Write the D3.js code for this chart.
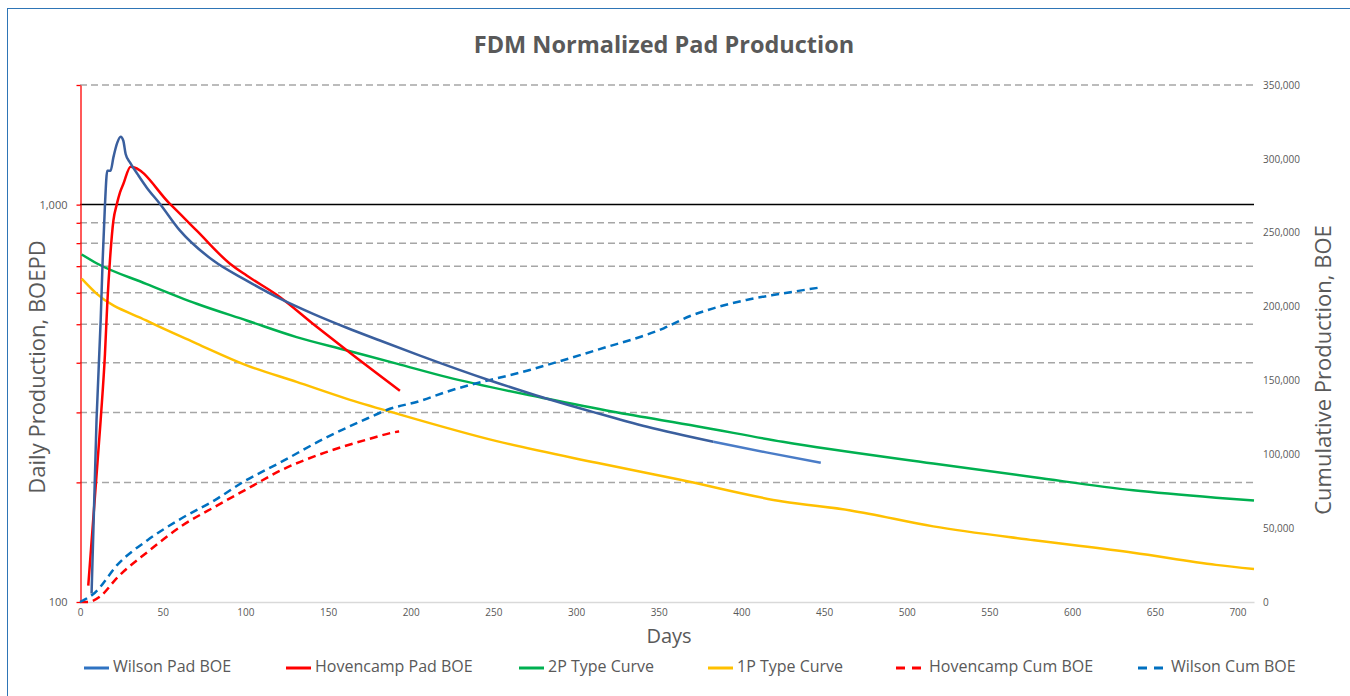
<!DOCTYPE html>
<html>
<head>
<meta charset="utf-8">
<script src="https://cdn.jsdelivr.net/npm/d3@7"></script>
<style>
  body { margin: 0; background: #fff; }
  text { font-family: "Open Sans", "Noto Sans", sans-serif; fill: #595959; }
</style>
</head>
<body>
<div id="chart"></div>
<script>
// daily rate series (BOEPD), [day, value]
const wilsonPad = [[7,105],[10,287],[12.5,511],[13.7,723],[15.1,1000],[16.5,1217],[18.5,1217],[20.2,1315],[22.5,1430],[24.6,1482],[26.2,1448],[27.6,1341],[30.2,1277],[35,1190],[40.3,1105],[48.4,1004],[60.5,860],[80.6,723],[100.8,644],[121,580],[141,531],[161.3,490],[181.4,455],[205.6,417],[248,361],[276,331],[310,301],[343,276],[383,253]];
const wilsonForecast = [[383,253],[415,238],[448,224]];
const hovencampPad = [[5,110],[12.5,287],[15.1,421],[16.5,563],[18.1,723],[20.2,912],[22.2,1000],[24.2,1074],[26.2,1127],[30.6,1246],[54.4,1004],[70.6,860],[90.7,710],[100.8,663],[121,585],[141,501],[161.3,430],[193.5,340]];
const typeCurve2P = [[1,749],[10,712],[40,632],[70.6,563],[100.8,511],[131,464],[161,430],[191.5,398],[222,368],[282,325],[322.5,301],[373,277],[425,253],[516,223],[577,206],[637,191],[687,183],[710,180]];
const typeCurve1P = [[1,651],[10,597],[40,511],[70.6,447],[100.8,394],[131,358],[161,325],[191.5,298],[252,254],[312.5,224],[363,203],[425,179],[466,170],[516,155],[577,143],[637,133],[687,124],[710,121]];

// cumulative series (BOE), [day, value]
const hovencampCum = [[0,0],[5,0],[12,3600],[23,17100],[41,34000],[61.5,51500],[81.6,64500],[101.8,77000],[122,89400],[148,101100],[174,110100],[190,114900],[193,115500]];
const wilsonCum = [[0,0],[9,6300],[23,25700],[41,42000],[61.5,56700],[81.6,69000],[98,80800],[122,95000],[148,110800],[174,124400],[185.5,130000],[205.6,136100],[222,142400],[272,157100],[312.5,170600],[353,185300],[369,193600],[383,198800],[403,204500],[423,208500],[448,213000]];

const dayTicks = d3.range(0, 701, 50);
const rateGrid = [200, 300, 400, 500, 600, 700, 800, 900, 2000];
const rateLabels = [100, 1000];
const cumTicks = d3.range(0, 350001, 50000);

const legendNames = ["Wilson Pad BOE", "Hovencamp Pad BOE", "2P Type Curve", "1P Type Curve", "Hovencamp Cum BOE", "Wilson Cum BOE"];
const legendColors = ["#2F73C2", "#FF0000", "#00B050", "#FFC000", "#FF0000", "#0070C0"];
const legendDashed = [false, false, false, false, true, true];
const legendX = [84, 286, 519, 708, 896, 1138];

const W = 1350, H = 696;
const svg = d3.select("#chart").append("svg").attr("width", W).attr("height", H);

// outer frame
svg.append("rect").attr("x", 7.5).attr("y", 8.5).attr("width", W).attr("height", H)
  .attr("fill", "none").attr("stroke", "#2E75B6").attr("stroke-width", 1);

const x = d3.scaleLinear().domain([0, 710]).range([80, 1254]);
const yRate = d3.scaleLog().domain([100, 2000]).range([602, 85]);
const yCum = d3.scaleLinear().domain([0, 350000]).range([602, 85]);

// title
svg.append("text").attr("x", 664).attr("y", 53).attr("text-anchor", "middle")
  .style("font-size", "23.5px").style("font-weight", "bold").text("FDM Normalized Pad Production");

// gridlines
svg.append("g").selectAll("line").data(rateGrid).enter().append("line")
  .attr("x1", 80).attr("x2", 1254)
  .attr("y1", d => yRate(d)).attr("y2", d => yRate(d))
  .attr("stroke", "#A6A6A6").attr("stroke-width", 1.5).attr("stroke-dasharray", "7,4");
svg.append("line").attr("x1", 80).attr("x2", 1254)
  .attr("y1", yRate(1000)).attr("y2", yRate(1000))
  .attr("stroke", "#000").attr("stroke-width", 1.5);

// bottom axis
const xAxis = svg.append("g").attr("transform", "translate(0,602)")
  .call(d3.axisBottom(x).tickValues(dayTicks).tickSize(0).tickPadding(7));
xAxis.select(".domain").attr("stroke", "#D9D9D9").attr("stroke-width", 1.5);
xAxis.selectAll("text").style("font-size", "10px").style("fill", "#595959");

// left axis (red)
const yAxisL = svg.append("g").attr("transform", "translate(80.5,0)")
  .call(d3.axisLeft(yRate).tickValues(rateLabels.concat(rateGrid)).tickSize(4).tickSizeOuter(0)
    .tickFormat(d => rateLabels.includes(d) ? d3.format(",")(d) : ""));
yAxisL.select(".domain").attr("stroke", "#FF0000").attr("stroke-width", 1.3);
yAxisL.selectAll(".tick line").attr("stroke", "#FF0000").attr("stroke-width", 1.3);
yAxisL.selectAll("text").style("font-size", "11px").style("fill", "#595959").attr("x", -13);

// right axis
const yAxisR = svg.append("g").attr("transform", "translate(1258,0)")
  .call(d3.axisRight(yCum).tickValues(cumTicks).tickSize(0).tickPadding(5).tickFormat(d3.format(",")));
yAxisR.select(".domain").remove();
yAxisR.selectAll("text").style("font-size", "10px").style("fill", "#595959");

// axis titles
svg.append("text").attr("transform", "translate(45,367) rotate(-90)").attr("text-anchor", "middle")
  .style("font-size", "22px").text("Daily Production, BOEPD");
svg.append("text").attr("transform", "translate(1331,370) rotate(-90)").attr("text-anchor", "middle")
  .style("font-size", "22px").text("Cumulative Production, BOE");
svg.append("text").attr("x", 669).attr("y", 643).attr("text-anchor", "middle")
  .style("font-size", "20px").text("Days");

// series
const rateLine = d3.line().x(d => x(d[0])).y(d => yRate(d[1])).curve(d3.curveMonotoneX);
const cumLine = d3.line().x(d => x(d[0])).y(d => yCum(d[1])).curve(d3.curveMonotoneX);

function drawLine(data, gen, color, dashed) {
  svg.append("path").datum(data).attr("d", gen)
    .attr("fill", "none").attr("stroke", color).attr("stroke-width", 2.5)
    .attr("stroke-linejoin", "round")
    .attr("stroke-dasharray", dashed ? "8,5" : null);
}

drawLine(typeCurve1P, rateLine, "#FFC000", false);
drawLine(typeCurve2P, rateLine, "#00B050", false);
drawLine(hovencampCum, cumLine, "#FF0000", true);
drawLine(wilsonCum, cumLine, "#0070C0", true);
drawLine(hovencampPad, rateLine, "#FF0000", false);
drawLine(wilsonForecast, rateLine, "#4A7CC7", false);
drawLine(wilsonPad, rateLine, "#3A5F9E", false);

// legend
const legend = svg.append("g").selectAll("g").data(legendNames).enter().append("g")
  .attr("transform", (d, i) => "translate(" + legendX[i] + ",668)");
legend.append("line").attr("x1", 0).attr("x2", (d, i) => legendDashed[i] ? 30 : 25)
  .attr("y1", 0).attr("y2", 0)
  .attr("stroke", (d, i) => legendColors[i]).attr("stroke-width", 3)
  .attr("stroke-dasharray", (d, i) => legendDashed[i] ? "9,7" : null);
legend.append("text").attr("x", (d, i) => legendDashed[i] ? 33 : 29).attr("y", 0)
  .attr("dominant-baseline", "middle").style("font-size", "16px").text(d => d);
</script>
</body>
</html>
